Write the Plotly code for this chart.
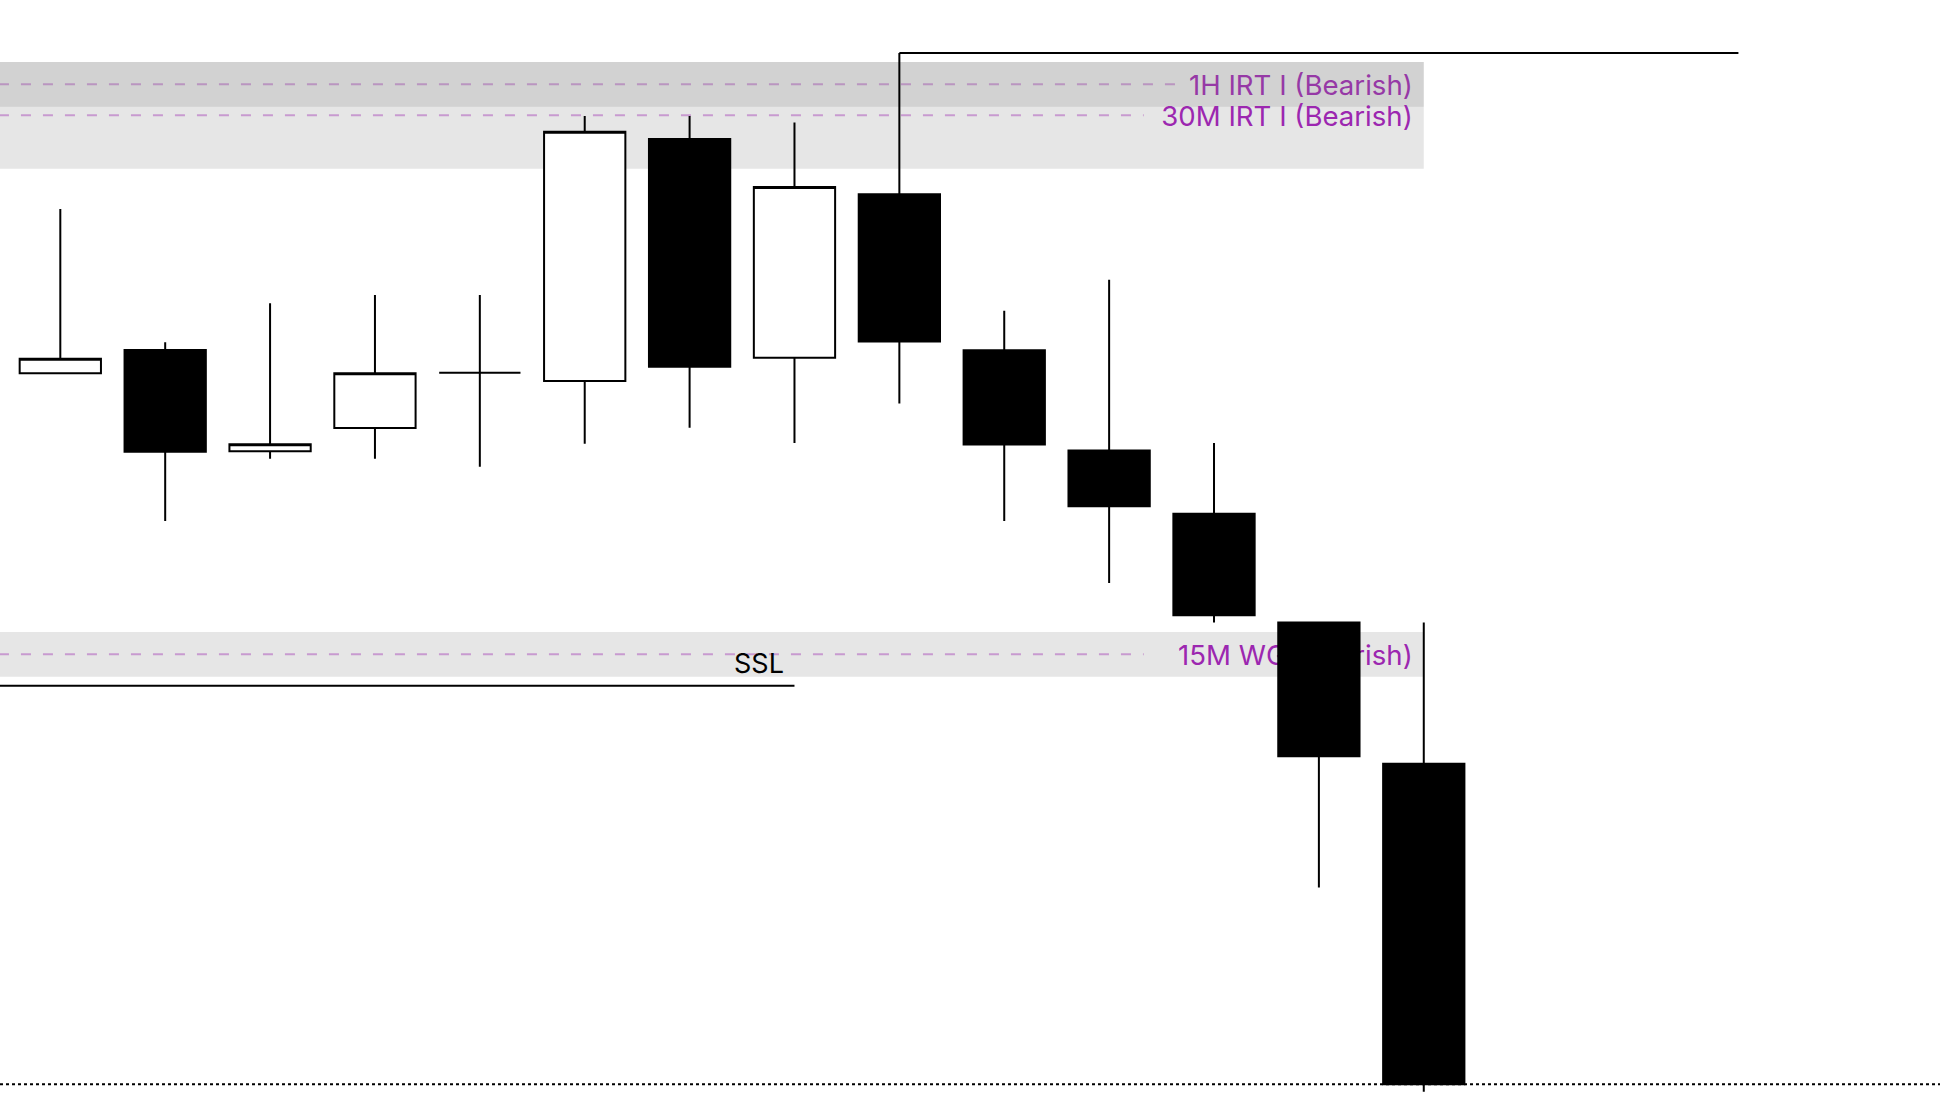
import plotly.graph_objects as go

# ---- data (price units; no axis is shown in the reference) ----
idx = list(range(14))
opens  = [740.7, 764.0, 662.7, 686.0, 741.3, 733.0, 975.0, 756.3, 919.7, 763.7, 663.4, 600.3, 491.4, 350.3]
highs  = [905.0, 771.7, 810.7, 819.0, 819.0, 998.0, 998.0, 991.5, 1061.0, 803.3, 834.3, 671.0, 491.4, 491.4]
lows   = [740.0, 593.0, 655.3, 655.3, 647.3, 670.3, 686.3, 671.0, 710.5, 593.0, 531.0, 491.4, 226.5, 22.3]
closes = [755.3, 662.3, 669.7, 740.7, 741.3, 982.3, 747.3, 927.1, 772.4, 669.6, 607.7, 498.8, 357.7, 29.7]

zone_labels = ["1H IRT I (Bearish)", "30M IRT I (Bearish)", "15M WG (Bearish)"]
zone_tops = [1052.0, 1052.0, 482.0]
zone_bottoms = [1007.3, 945.3, 437.3]

high_line_level = 1061.0      # high of candle 9
ssl_level = 428.3
ssl_label = "SSL"

W, H = 1940, 1114
X0, X1 = -0.575, 17.922
PURPLE = "#9c27b0"

fig = go.Figure()
fig.add_trace(go.Candlestick(
    x=idx, open=opens, high=highs, low=lows, close=closes,
    increasing=dict(fillcolor="white", line=dict(color="black", width=2)),
    decreasing=dict(fillcolor="black", line=dict(color="black", width=2)),
    whiskerwidth=0, showlegend=False, hoverinfo="skip",
))

shapes = []
# zones with labels (below candles)
line_ends = [10.63, 10.33, 10.33]
for lab, top, bot, lend in zip(zone_labels, zone_tops, zone_bottoms, line_ends):
    shapes.append(dict(
        type="rect", xref="x", yref="y", x0=X0 - 1, x1=13, y0=bot, y1=top,
        fillcolor="rgba(128,128,128,0.2)", line=dict(width=0), layer="below",
        label=dict(text=lab, textposition="middle right", padding=8,
                   font=dict(family="Inter, Noto Sans, sans-serif", size=27.6, color=PURPLE)),
    ))
    mid = (top + bot) / 2
    shapes.append(dict(
        type="line", xref="x", yref="y", x0=X0 - 0.01, x1=lend, y0=mid, y1=mid,
        line=dict(color="rgba(156,39,176,0.4)", width=2, dash="10px,12px"), layer="below",
    ))

# high line from candle 9
shapes.append(dict(type="line", xref="x", yref="y", x0=8, x1=16, y0=high_line_level, y1=high_line_level,
                   line=dict(color="black", width=2), layer="below"))
# SSL line
shapes.append(dict(type="line", xref="x", yref="y", x0=X0 - 1, x1=7, y0=ssl_level, y1=ssl_level,
                   line=dict(color="black", width=2), layer="below"))
# current price dotted line at last close
shapes.append(dict(type="line", xref="paper", yref="y", x0=0, x1=1, y0=closes[-1], y1=closes[-1],
                   line=dict(color="black", width=2, dash="dot"), layer="below"))

fig.update_layout(
    width=W, height=H, margin=dict(l=0, r=0, t=0, b=0),
    paper_bgcolor="white", plot_bgcolor="white",
    boxgap=0.225, boxgroupgap=0,
    xaxis=dict(range=[X0, X1], visible=False, rangeslider=dict(visible=False), fixedrange=True),
    yaxis=dict(range=[0, H], visible=False, fixedrange=True),
    shapes=shapes,
    annotations=[dict(
        x=7, y=ssl_level, xref="x", yref="y", text=ssl_label, showarrow=False,
        xanchor="right", yanchor="bottom", xshift=-8, yshift=4,
        font=dict(family="Inter, Noto Sans, sans-serif", size=27, color="black"),
    )],
    showlegend=False,
)

fig.write_html("out.html", config={"displayModeBar": False},
               post_script="document.body.style.margin='0';")
